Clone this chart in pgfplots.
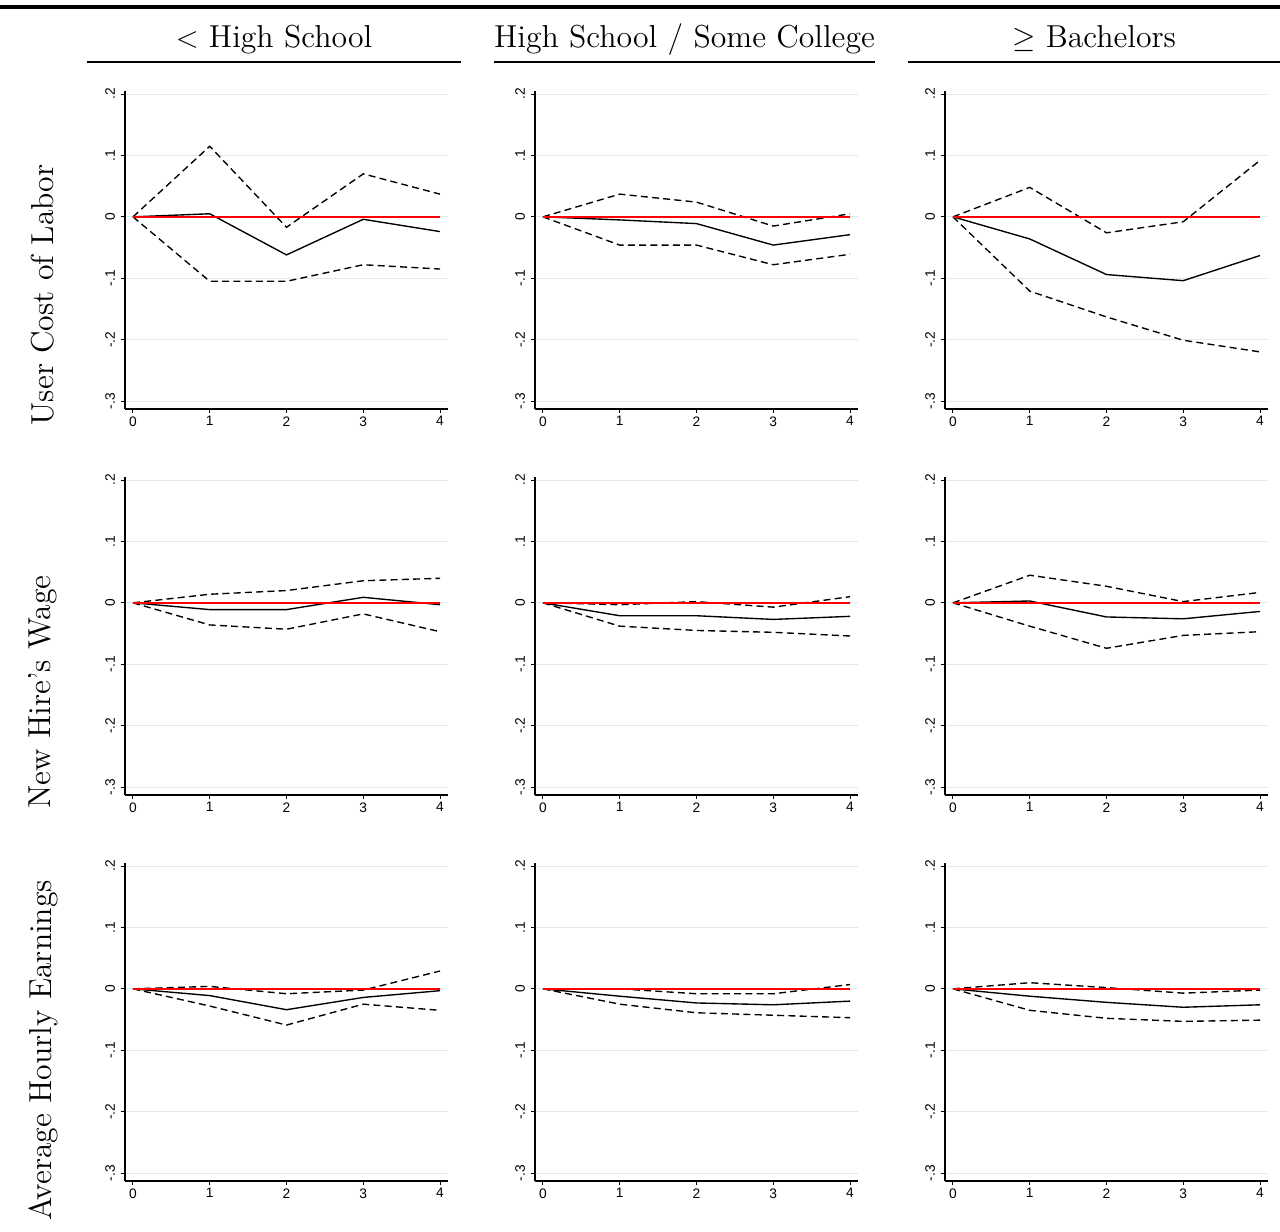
\documentclass[border=0pt]{standalone}
\usepackage{pgfplots}
\pgfplotsset{compat=1.18}
\usepackage{fontspec}
\newfontfamily\ticksf{Liberation Sans}
\definecolor{gridc}{RGB}{224,234,237}
\pgfplotsset{
  panel/.style={
    anchor=south west,
    scale only axis,
    width=129.2pt, height=127.2pt,
    xmin=-0.104, xmax=4.104, ymin=-0.313, ymax=0.205,
    axis x line=bottom, axis y line=left,
    axis line style={-, line width=0.55pt, black},
    xtick={0,1,2,3,4},
    ytick={-0.3,-0.2,-0.1,0,0.1,0.2},
    yticklabels={-.3,-.2,-.1,0,.1,.2},
    xticklabels={0,1,2,3,4},
    tick align=outside,
    major tick length=1.6pt,
    tick style={line width=0.4pt, black},
    ymajorgrids,
    grid style={gridc, line width=0.4pt},
    ticklabel style={font=\ticksf\fontsize{5.5}{6.5}\selectfont},
    yticklabel style={rotate=90, anchor=south, inner sep=2.2pt},
    xticklabel style={anchor=north, inner sep=1.2pt},
    clip=false,
  },
  est/.style={black, line width=0.55pt},
  ci/.style={black, line width=0.55pt, dash pattern=on 2.8pt off 1.7pt},
  zero/.style={red, line width=0.6pt},
}
\newcommand\panel[5]{%
\begin{axis}[panel, at={({#1*0.4pt},{-#2*0.4pt})}]
\addplot[ci] coordinates {#4};
\addplot[ci] coordinates {#5};
\addplot[est] coordinates {#3};
\addplot[zero] coordinates {(0,0) (4,0)};
\end{axis}}
\begin{document}
\begin{tikzpicture}
\path[use as bounding box] (0,0) rectangle (512pt,-492.8pt);
\draw[line width=1.3pt] (0,{-7*0.4pt}) -- (512pt,{-7*0.4pt});
\begin{scope}[font=\fontsize{12.7}{15}\selectfont]
\node[anchor=base] at ({274*0.4pt},{-47*0.4pt}) {$<$ High School};
\node[anchor=base] at ({684.5*0.4pt},{-47*0.4pt}) {High School / Some College};
\node[anchor=base] at ({1094*0.4pt},{-47*0.4pt}) {$\geq$ Bachelors};
\node[rotate=90] at ({43*0.4pt},{-295*0.4pt}) {User Cost of Labor};
\node[rotate=90] at ({43*0.4pt},{-692*0.4pt}) {New Hire's Wage};
\node[rotate=90] at ({43*0.4pt},{-1050*0.4pt}) {Average Hourly Earnings};
\end{scope}
\draw[line width=0.6pt] ({87*0.4pt},{-62*0.4pt}) -- ({461*0.4pt},{-62*0.4pt});
\draw[line width=0.6pt] ({494*0.4pt},{-62*0.4pt}) -- ({875*0.4pt},{-62*0.4pt});
\draw[line width=0.6pt] ({908*0.4pt},{-62*0.4pt}) -- (512pt,{-62*0.4pt});
% Row 1: User Cost of Labor
\panel{125}{409}
 {(0,0) (1,0.005) (2,-0.062) (3,-0.004) (4,-0.024)}
 {(0,0) (1,0.115) (2,-0.017) (3,0.070) (4,0.037)}
 {(0,0) (1,-0.105) (2,-0.105) (3,-0.078) (4,-0.085)}
\panel{535}{409}
 {(0,0) (1,-0.005) (2,-0.011) (3,-0.046) (4,-0.029)}
 {(0,0) (1,0.037) (2,0.024) (3,-0.015) (4,0.005)}
 {(0,0) (1,-0.046) (2,-0.046) (3,-0.078) (4,-0.061)}
\panel{945}{409}
 {(0,0) (1,-0.036) (2,-0.094) (3,-0.104) (4,-0.063)}
 {(0,0) (1,0.048) (2,-0.026) (3,-0.008) (4,0.092)}
 {(0,0) (1,-0.121) (2,-0.163) (3,-0.201) (4,-0.220)}
% Row 2: New Hire's Wage
\panel{125}{795}
 {(0,0) (1,-0.011) (2,-0.011) (3,0.009) (4,-0.003)}
 {(0,0) (1,0.014) (2,0.020) (3,0.036) (4,0.040)}
 {(0,0) (1,-0.036) (2,-0.043) (3,-0.018) (4,-0.047)}
\panel{535}{795}
 {(0,0) (1,-0.021) (2,-0.021) (3,-0.027) (4,-0.022)}
 {(0,0) (1,-0.003) (2,0.002) (3,-0.007) (4,0.010)}
 {(0,0) (1,-0.038) (2,-0.045) (3,-0.048) (4,-0.054)}
\panel{945}{795}
 {(0,0) (1,0.003) (2,-0.023) (3,-0.026) (4,-0.014)}
 {(0,0) (1,0.045) (2,0.027) (3,0.002) (4,0.017)}
 {(0,0) (1,-0.038) (2,-0.074) (3,-0.053) (4,-0.047)}
% Row 3: Average Hourly Earnings
\panel{125}{1181}
 {(0,0) (1,-0.011) (2,-0.034) (3,-0.014) (4,-0.003)}
 {(0,0) (1,0.004) (2,-0.008) (3,-0.002) (4,0.029)}
 {(0,0) (1,-0.028) (2,-0.059) (3,-0.025) (4,-0.035)}
\panel{535}{1181}
 {(0,0) (1,-0.012) (2,-0.023) (3,-0.026) (4,-0.020)}
 {(0,0) (1,0.000) (2,-0.008) (3,-0.008) (4,0.007)}
 {(0,0) (1,-0.025) (2,-0.039) (3,-0.043) (4,-0.047)}
\panel{945}{1181}
 {(0,0) (1,-0.012) (2,-0.022) (3,-0.030) (4,-0.026)}
 {(0,0) (1,0.010) (2,0.002) (3,-0.007) (4,-0.002)}
 {(0,0) (1,-0.035) (2,-0.048) (3,-0.053) (4,-0.051)}
\end{tikzpicture}
\end{document}
